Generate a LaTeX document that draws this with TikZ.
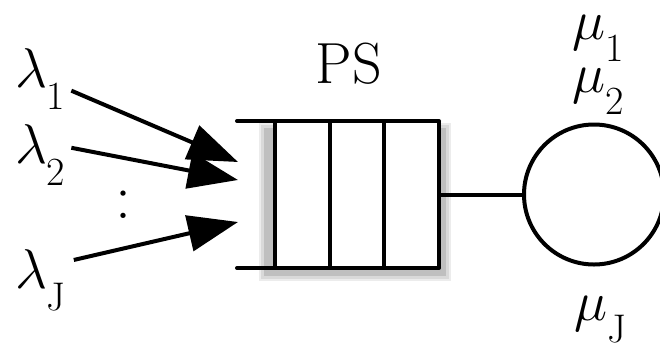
\RequirePackage{fix-cm}
\documentclass[tikz,border=0pt]{standalone}
\usepackage{tikz}
\usetikzlibrary{calc}
\usetikzlibrary{positioning}
\usetikzlibrary{arrows.meta}
\tikzset{flow/.style={-{Triangle[length=50pt,width=36pt]},line width=4pt}}
\tikzset{rate/.style={anchor=base west,inner sep=0pt,font=\fontsize{56}{60}\selectfont}}
\tikzset{slots/.style={fill=white,minimum width=160pt,minimum height=143pt,inner sep=0pt}}
\newcommand{\rt}[2]{$#1$\raisebox{-22pt}{\fontsize{40}{40}\selectfont #2}}

\begin{document}
\begin{tikzpicture}[x=1pt,y=-1pt,line width=4pt]
		\useasboundingbox (0,0) rectangle (660,349);
		% shadow of the queue
		\fill[gray!15] (259,123) rectangle (451,281);
		\fill[gray!30] (261,125) rectangle (449,279);
		\fill[gray!50] (264,128) rectangle (446,276);
		\node[slots] (q) at (357,194.5) {};
		\draw[line cap=round] ($(q.north west)+(-38,0)$) -- (q.north east);
		\draw[line cap=round] ($(q.south west)+(-38,0)$) -- (q.south east);
		\foreach \i in {0,1,2,3}
			\draw ($(q.north west)!\i/3!(q.north east)$) -- ($(q.south west)!\i/3!(q.south east)$);
		\node[draw,circle,minimum size=140pt,inner sep=0pt] (srv) at (594,194.5) {};
		\path (q.east) edge (srv.west);
		\node[anchor=base,font=\fontsize{58}{60}\selectfont] (ps) at (349,83) {PS};
		\node[rate] (lam1) at (13,87) {\rt{\lambda}{1}};
		\node[rate] (lam2) at (13,163) {\rt{\lambda}{2}};
		\node[rate] (lamJ) at (13,288) {\rt{\lambda}{J}};
		\node[anchor=base,font=\fontsize{64}{64}\selectfont] (dots) at (123,218) {:};
		\node[rate] (mu1) at (570,39) {\rt{\mu}{1}};
		\node[rate] (mu2) at (570,92) {\rt{\mu}{2}};
		\node[rate] (muJ) at (572,320) {\rt{\mu}{J}};
		\coordinate (in1) at (238,162);
		\coordinate (in2) at (238,180);
		\coordinate (inJ) at (238,222);
		\path [flow] ([xshift=4pt]lam1.-24) edge (in1);
		\path [flow] ([xshift=4pt]lam2.14) edge (in2);
		\path [flow] ([xshift=6pt]lamJ.36) edge (inJ);
	\end{tikzpicture}
\end{document}
